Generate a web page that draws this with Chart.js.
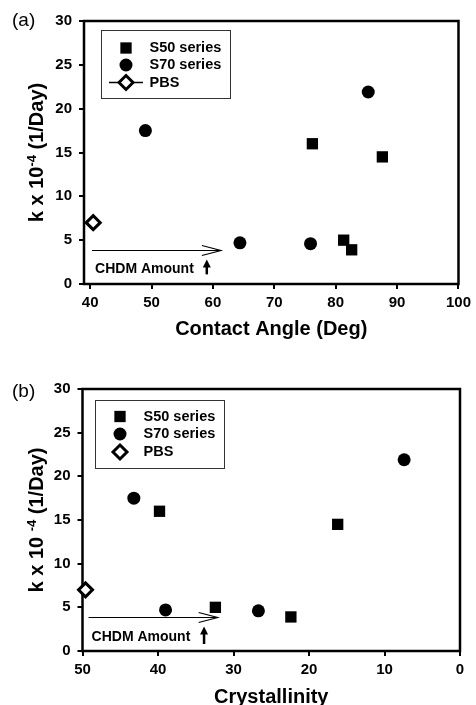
<!DOCTYPE html>
<html>
<head>
<meta charset="utf-8">
<script src="https://cdn.jsdelivr.net/npm/chart.js@4.4.0/dist/chart.umd.min.js"></script>
<style>
  html, body { margin: 0; padding: 0; background: #fff; overflow: hidden; }
  .panel { position: absolute; left: 0; width: 476px; }
</style>
</head>
<body>
<div class="panel" style="top:0"><canvas id="chartA" width="476" height="341"></canvas></div>
<div class="panel" style="top:340px"><canvas id="chartB" width="476" height="369"></canvas></div>
<script>
// rate constants, shared by both panels (k x 10^-4, 1/day)
const kS50 = [16.0, 14.5, 5.0, 3.9];
const kS70 = [17.5, 21.9, 4.7, 4.6];
const kPBS = [7.0];

// panel (a): contact angle (deg)
const contactS50 = [76.2, 87.6, 81.3, 82.6];
const contactS70 = [49.0, 85.3, 64.4, 75.9];
const contactPBS = [40.5];

// panel (b): crystallinity
const crystS50 = [39.8, 16.2, 32.4, 22.4];
const crystS70 = [43.2, 7.4, 39.0, 26.7];
const crystPBS = [49.6];

const seriesLabels = ['S50 series', 'S70 series', 'PBS'];
const yTicks = [0, 5, 10, 15, 20, 25, 30];
const xTicksA = [40, 50, 60, 70, 80, 90, 100];
const xTicksB = [0, 10, 20, 30, 40, 50];

const FONT = '"Liberation Sans", Arial, sans-serif';

function pairs(xs, ys) {
    return xs.map((x, i) => ({x: x, y: ys[i]}));
}

function drawMarker(ctx, style, x, y, r, fill, stroke, bw) {
    ctx.save();
    ctx.fillStyle = fill;
    ctx.strokeStyle = stroke;
    ctx.lineWidth = bw;
    ctx.beginPath();
    if (style === 'rect') {
        const s = r * Math.SQRT1_2;
        ctx.rect(x - s, y - s, 2 * s, 2 * s);
    } else if (style === 'circle') {
        ctx.arc(x, y, r, 0, Math.PI * 2);
    } else {
        ctx.moveTo(x, y - r);
        ctx.lineTo(x + r, y);
        ctx.lineTo(x, y + r);
        ctx.lineTo(x - r, y);
        ctx.closePath();
    }
    ctx.fill();
    if (bw > 0) ctx.stroke();
    ctx.restore();
}

// thick box round the plot area
const frame = {
    id: 'frame',
    beforeDatasetsDraw(chart) {
        const {ctx, chartArea: a} = chart;
        ctx.save();
        ctx.strokeStyle = '#000';
        ctx.lineWidth = 2.5;
        ctx.strokeRect(a.left, a.top, a.right - a.left, a.bottom - a.top);
        ctx.restore();
    }
};

const boxLegend = {
    id: 'boxLegend',
    afterDraw(chart, args, opts) {
        const {ctx, chartArea} = chart;
        const x0 = Math.round(chartArea.left + opts.dx) + 0.5;
        const y0 = Math.round(chartArea.top + opts.dy) + 0.5;
        ctx.save();
        ctx.strokeStyle = '#333';
        ctx.lineWidth = 1;
        ctx.strokeRect(x0, y0, 129, 68);
        chart.data.datasets.forEach((ds, i) => {
            const mx = x0 + 24.5;
            const my = y0 + opts.rows[i];
            if (opts.lineRow === i) {
                ctx.strokeStyle = '#000';
                ctx.lineWidth = 1.5;
                ctx.beginPath();
                ctx.moveTo(mx - 17, my);
                ctx.lineTo(mx + 17, my);
                ctx.stroke();
            }
            drawMarker(ctx, ds.pointStyle, mx, my, ds.pointRadius,
                ds.pointBackgroundColor, ds.pointBorderColor, ds.pointBorderWidth);
            ctx.fillStyle = '#000';
            ctx.font = 'bold 14.5px ' + FONT;
            ctx.textBaseline = 'middle';
            ctx.textAlign = 'left';
            ctx.fillText(ds.label, x0 + 48, my);
        });
        ctx.restore();
    }
};

// rotated y title with a superscript exponent
const yTitle = {
    id: 'yTitle',
    afterDraw(chart, args, opts) {
        const {ctx, chartArea} = chart;
        const cy = (chartArea.top + chartArea.bottom) / 2;
        const big = 'bold 20px ' + FONT;
        const small = 'bold 13px ' + FONT;
        ctx.save();
        ctx.translate(opts.x, cy);
        ctx.rotate(-Math.PI / 2);
        ctx.fillStyle = '#000';
        ctx.textBaseline = 'alphabetic';
        ctx.textAlign = 'left';
        ctx.font = big;
        const w1 = ctx.measureText(opts.pre).width;
        const w3 = ctx.measureText(opts.post).width;
        ctx.font = small;
        const w2 = ctx.measureText(opts.sup).width;
        let x = -(w1 + w2 + w3) / 2;
        ctx.font = big;
        ctx.fillText(opts.pre, x, 0);
        x += w1;
        ctx.font = small;
        ctx.fillText(opts.sup, x, -7);
        x += w2;
        ctx.font = big;
        ctx.fillText(opts.post, x, 0);
        ctx.restore();

        ctx.save();
        ctx.fillStyle = '#000';
        ctx.font = '19px ' + FONT;
        ctx.textBaseline = 'middle';
        ctx.textAlign = 'left';
        ctx.fillText(opts.panel, 12, opts.panelY);
        ctx.restore();
    }
};

// "CHDM Amount" arrows, placed in data units
const chdmNote = {
    id: 'chdmNote',
    afterDatasetsDraw(chart, args, o) {
        const {ctx} = chart;
        const px = v => chart.scales.x.getPixelForValue(v);
        const py = v => chart.scales.y.getPixelForValue(v);
        const x1 = px(o.from), x2 = px(o.to), y = Math.round(py(o.y)) + 0.5;
        ctx.save();
        ctx.strokeStyle = '#000';
        ctx.lineWidth = 1.2;
        ctx.beginPath();
        ctx.moveTo(x1, y);
        ctx.lineTo(x2, y);
        ctx.moveTo(x2 - 19, y - 5);
        ctx.lineTo(x2, y);
        ctx.lineTo(x2 - 19, y + 5);
        ctx.stroke();

        ctx.fillStyle = '#000';
        ctx.font = 'bold 14px ' + FONT;
        ctx.textBaseline = 'alphabetic';
        ctx.textAlign = 'left';
        ctx.fillText('CHDM Amount', px(o.textX), py(o.textY));

        const ux = px(o.upX), yb = py(o.upFrom), yt = py(o.upTo);
        ctx.lineWidth = 2.5;
        ctx.beginPath();
        ctx.moveTo(ux, yb);
        ctx.lineTo(ux, yt + 5);
        ctx.stroke();
        ctx.beginPath();
        ctx.moveTo(ux, yt);
        ctx.lineTo(ux + 4, yt + 8);
        ctx.lineTo(ux - 4, yt + 8);
        ctx.closePath();
        ctx.fill();
        ctx.restore();
    }
};

function buildDatasets(s50, s70, pbs) {
    return [
        {label: seriesLabels[0], data: pairs(s50, kS50), pointStyle: 'rect', pointRadius: 8,
            pointBackgroundColor: '#000', pointBorderColor: '#000', pointBorderWidth: 0},
        {label: seriesLabels[1], data: pairs(s70, kS70), pointStyle: 'circle', pointRadius: 6.5,
            pointBackgroundColor: '#000', pointBorderColor: '#000', pointBorderWidth: 0},
        {label: seriesLabels[2], data: pairs(pbs, kPBS), pointStyle: 'rectRot', pointRadius: 7,
            pointBackgroundColor: '#fff', pointBorderColor: '#000', pointBorderWidth: 3}
    ].map(ds => Object.assign(ds, {showLine: false, clip: false, pointHoverRadius: ds.pointRadius}));
}

function tickFont() {
    return {family: FONT, size: 15, weight: 'bold'};
}

function buildChart({canvas, datasets, xTicks, xMin, xMax, reverse, xTitle, yWidth, xHeight, padding, plugins}) {
    return new Chart(canvas.getContext('2d'), {
        type: 'scatter',
        data: {datasets},
        plugins: [frame, chdmNote, yTitle, boxLegend],
        options: {
            responsive: false,
            animation: false,
            events: [],
            layout: {padding},
            plugins: Object.assign({legend: {display: false}, tooltip: {enabled: false}}, plugins),
            scales: {
                x: {
                    type: 'linear', min: xMin, max: xMax, reverse: reverse,
                    afterBuildTicks: s => { s.ticks = xTicks.map(v => ({value: v})); },
                    afterFit: s => { s.height = xHeight; },
                    grid: {drawOnChartArea: false, drawTicks: true, tickLength: 5, color: '#000', lineWidth: 2},
                    border: {display: false},
                    ticks: {color: '#000', font: tickFont(), padding: 5, maxRotation: 0, autoSkip: false},
                    title: {display: true, text: xTitle, color: '#000', padding: 0,
                        font: {family: FONT, size: 20, weight: 'bold'}}
                },
                y: {
                    type: 'linear', min: 0, max: 30,
                    afterBuildTicks: s => { s.ticks = yTicks.map(v => ({value: v})); },
                    afterFit: s => { s.width = yWidth; },
                    grid: {drawOnChartArea: false, drawTicks: true, tickLength: 5, color: '#000', lineWidth: 2},
                    border: {display: false},
                    ticks: {color: '#000', font: tickFont(), padding: 7}
                }
            }
        }
    });
}

buildChart({
    canvas: document.getElementById('chartA'),
    datasets: buildDatasets(contactS50, contactS70, contactPBS),
    xTicks: xTicksA, xMin: 39, xMax: 100, reverse: false,
    xTitle: 'Contact Angle (Deg)',
    yWidth: 84, xHeight: 57,
    padding: {top: 21, right: 14, bottom: 0, left: 0},
    plugins: {
        yTitle: {x: 42.5, pre: 'k x 10', sup: '-4', post: ' (1/Day)', panel: '(a)', panelY: 21},
        boxLegend: {dx: 17, dy: 8.5, rows: [17.5, 34.5, 52], lineRow: 2},
        chdmNote: {from: 40.3, to: 61.3, y: 3.9, textX: 40.8, textY: 1.3, upX: 59.0, upFrom: 1.1, upTo: 2.8}
    }
});

buildChart({
    canvas: document.getElementById('chartB'),
    datasets: buildDatasets(crystS50, crystS70, crystPBS),
    xTicks: xTicksB, xMin: 0, xMax: 50, reverse: true,
    xTitle: 'Crystallinity',
    yWidth: 82.5, xHeight: 58,
    padding: {top: 49, right: 16, bottom: 0, left: 0},
    plugins: {
        yTitle: {x: 42.5, pre: 'k x 10 ', sup: '-4', post: ' (1/Day)', panel: '(b)', panelY: 52},
        boxLegend: {dx: 12, dy: 11, rows: [16, 33.5, 51.5], lineRow: -1},
        chdmNote: {from: 49.2, to: 32.1, y: 3.9, textX: 48.8, textY: 1.2, upX: 33.9, upFrom: 0.8, upTo: 2.8}
    }
});
</script>
</body>
</html>
